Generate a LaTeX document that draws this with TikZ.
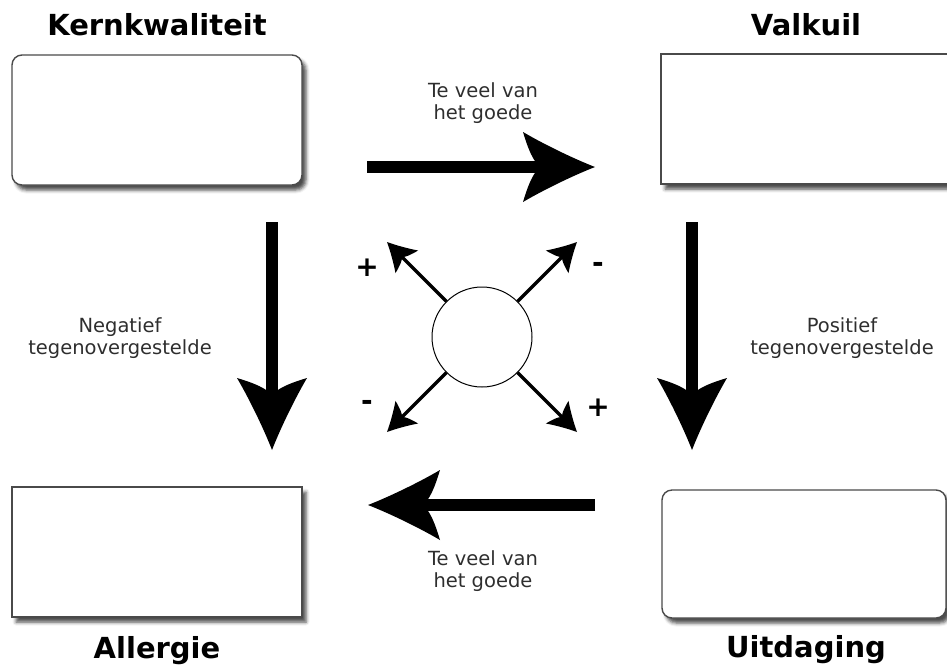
\documentclass[tikz,border=0pt]{standalone}
\usepackage{fontspec}
\setmainfont{DejaVu Sans}
\usetikzlibrary{arrows.meta,shadows.blur}

\definecolor{boxline}{HTML}{4A4A4A}
\definecolor{txt}{HTML}{2E2E2E}

% Filled arrow head with curved flanks and a hollowed back
\pgfdeclarearrow{
  name = CurvedHead,
  parameters = {\the\pgfarrowlength,\the\pgfarrowwidth},
  setup code = {
    \pgfarrowssettipend{0pt}
    \pgfarrowssetlineend{-0.7\pgfarrowlength}
    \pgfarrowssetbackend{-\pgfarrowlength}
    \pgfarrowssetvisualbackend{-0.7\pgfarrowlength}
    \pgfarrowssavethe\pgfarrowlength
    \pgfarrowssavethe\pgfarrowwidth
  },
  drawing code = {
    \pgfpathmoveto{\pgfpointorigin}
    \pgfpathcurveto
      {\pgfpoint{-0.3\pgfarrowlength}{0.12\pgfarrowwidth}}
      {\pgfpoint{-0.72\pgfarrowlength}{0.33\pgfarrowwidth}}
      {\pgfpoint{-\pgfarrowlength}{0.5\pgfarrowwidth}}
    \pgfpathcurveto
      {\pgfpoint{-0.93\pgfarrowlength}{0.26\pgfarrowwidth}}
      {\pgfpoint{-0.86\pgfarrowlength}{0.08\pgfarrowwidth}}
      {\pgfpoint{-0.76\pgfarrowlength}{0pt}}
    \pgfpathcurveto
      {\pgfpoint{-0.86\pgfarrowlength}{-0.08\pgfarrowwidth}}
      {\pgfpoint{-0.93\pgfarrowlength}{-0.26\pgfarrowwidth}}
      {\pgfpoint{-\pgfarrowlength}{-0.5\pgfarrowwidth}}
    \pgfpathcurveto
      {\pgfpoint{-0.72\pgfarrowlength}{-0.33\pgfarrowwidth}}
      {\pgfpoint{-0.3\pgfarrowlength}{-0.12\pgfarrowwidth}}
      {\pgfpointorigin}
    \pgfpathclose
    \pgfusepathqfill
  },
  defaults = {length = 10pt, width = 10pt}
}

\begin{document}
\begin{tikzpicture}[
  x=1pt, y=-1pt,
  box/.style={draw=boxline, line width=1.4pt, fill=white,
    minimum width=290pt, minimum height=130pt, inner sep=0pt,
    blur shadow={shadow xshift=4pt, shadow yshift=-5pt,
      shadow blur radius=3.5pt, shadow opacity=70}},
  roundbox/.style={box, rounded corners=10pt},
  title/.style={font=\fontsize{29}{34}\selectfont\bfseries, anchor=base, text=black},
  note/.style={font=\fontsize{19.5}{22}\selectfont, text=txt, align=center},
  sign/.style={font=\fontsize{28}{32}\selectfont\bfseries, text=black},
  bigarrow/.style={line width=12pt, -{CurvedHead[length=72pt,width=70pt]}},
  smallarrow/.style={line width=3.5pt, -{CurvedHead[length=28pt,width=32pt]}},
]
\useasboundingbox (0,0) rectangle (947,670);

% the four quadrant boxes
\node[roundbox] (kern) at (157,120) {};
\node[box] (valk) at (806,119) {};
\node[box] (aller) at (157,552) {};
\node[roundbox, minimum width=284pt, minimum height=128pt] (uit) at (804,554) {};

% titles
\node[title] (tkern) at (157,35) {Kernkwaliteit};
\node[title] (tvalk) at (806,35) {Valkuil};
\node[title] (taller) at (157,658) {Allergie};
\node[title] (tuit) at (806,657) {Uitdaging};

% end points of the big arrows
\coordinate (topL) at (367,167);
\coordinate (topR) at (595,167);
\coordinate (botR) at (595,505);
\coordinate (botL) at (368,505);
\coordinate (leftT) at (272,222);
\coordinate (leftB) at (272,450);
\coordinate (rightT) at (692,222);
\coordinate (rightB) at (692,450);

\draw[bigarrow] (topL) -- (topR);
\draw[bigarrow] (botR) -- (botL);
\draw[bigarrow] (leftT) -- (leftB);
\draw[bigarrow] (rightT) -- (rightB);

% arrow labels
\node[note] (ltop) at (483,103) {Te veel van\\het goede};
\node[note] (lbot) at (483,571) {Te veel van\\het goede};
\node[note] (lneg) at (120,338) {Negatief\\tegenovergestelde};
\node[note] (lpos) at (842,338) {Positief\\tegenovergestelde};

% central circle with four diagonal arrows
\node[circle, draw, line width=1pt, fill=white, minimum size=100pt, inner sep=0pt] (hub) at (482,337) {};
\coordinate (ul) at (387,242);
\coordinate (ur) at (577,242);
\coordinate (ll) at (387,432);
\coordinate (lr) at (577,432);
\draw[smallarrow] (hub.135) -- (ul);
\draw[smallarrow] (hub.45) -- (ur);
\draw[smallarrow] (hub.225) -- (ll);
\draw[smallarrow] (hub.315) -- (lr);

\node[sign] (sul) at (367,268) {+};
\node[sign] (sur) at (598,267) {-};
\node[sign] (sll) at (367,405) {-};
\node[sign] (slr) at (598,408) {+};
\end{tikzpicture}
\end{document}
